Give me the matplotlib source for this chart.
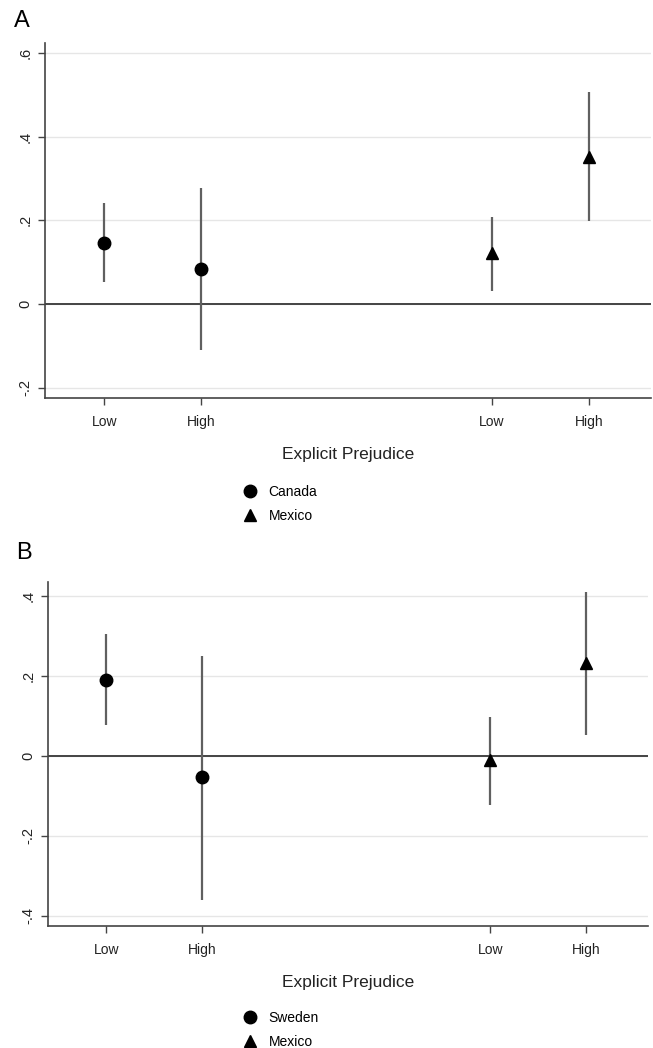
import matplotlib
matplotlib.use("Agg")
import matplotlib.pyplot as plt
from matplotlib.lines import Line2D
from matplotlib.ticker import FuncFormatter

plt.rcParams['font.family'] = ['Liberation Sans', 'DejaVu Sans']

# x positions: Low/High for first country, Low/High for Mexico
levels = ["Low", "High", "Low", "High"]
xpos = [1, 2, 5, 6]

# Panel A: Canada vs Mexico
a_names = ["Canada", "Mexico"]
a_est = [0.145, 0.085, 0.121, 0.352]
a_lo = [0.052, -0.110, 0.032, 0.199]
a_hi = [0.241, 0.278, 0.209, 0.506]

# Panel B: Sweden vs Mexico
b_names = ["Sweden", "Mexico"]
b_est = [0.190, -0.054, -0.010, 0.232]
b_lo = [0.078, -0.360, -0.124, 0.053]
b_hi = [0.304, 0.251, 0.098, 0.409]


def fmt(v, pos):
    if abs(v) < 1e-9:
        return "0"
    s = "%.1f" % v
    return s.replace("0.", ".")


def panel(ax, est, lo, hi, yticks, ylim):
    for y in yticks:
        ax.axhline(y, color='#e6e6e6', lw=1, zorder=0)
    ax.axhline(0, color='#444444', lw=1.4, zorder=1)
    ax.vlines(xpos, lo, hi, color='#606060', lw=1.6, zorder=2)
    ax.plot(xpos[:2], est[:2], 'o', color='black', ms=9, zorder=3)
    ax.plot(xpos[2:], est[2:], '^', color='black', ms=9, zorder=3)
    ax.set_xlim(0.39, 6.64)
    ax.set_ylim(*ylim)
    ax.set_xticks(xpos)
    ax.set_xticklabels(levels, fontsize=10)
    ax.set_yticks(yticks)
    ax.yaxis.set_major_formatter(FuncFormatter(fmt))
    for lab in ax.get_yticklabels():
        lab.set_rotation(90)
        lab.set_va('center')
        lab.set_fontsize(10.5)
    for s in ['top', 'right']:
        ax.spines[s].set_visible(False)
    for s in ['left', 'bottom']:
        ax.spines[s].set_color('#444444')
        ax.spines[s].set_linewidth(1.2)
    ax.tick_params(colors='#444444', length=5, width=1, labelcolor='#222222', pad=4)
    ax.tick_params(axis='x', pad=7)
    ax.set_xlabel("Explicit Prejudice", fontsize=12.5, labelpad=13, color='#222222')


fig = plt.figure(figsize=(6.53, 10.48), dpi=100)

axA = fig.add_axes([0.069, 0.620, 0.928, 0.339])
panel(axA, a_est, a_lo, a_hi, [-0.2, 0, 0.2, 0.4, 0.6], (-0.225, 0.624))
axB = fig.add_axes([0.073, 0.116, 0.919, 0.329])
panel(axB, b_est, b_lo, b_hi, [-0.4, -0.2, 0, 0.2, 0.4], (-0.427, 0.436))

fig.text(0.021, 0.980, "A", fontsize=17, va='center')
fig.text(0.025, 0.472, "B", fontsize=17, va='center')

for names, ytop in [(a_names, 1 - 478 / 1048), (b_names, 1 - 1004 / 1048)]:
    handles = [Line2D([], [], marker='o', ls='none', color='black', ms=9),
               Line2D([], [], marker='^', ls='none', color='black', ms=9)]
    fig.legend(handles, names, loc='upper left', bbox_to_anchor=(0.36, ytop),
               frameon=False, fontsize=10, handletextpad=0.7,
               labelspacing=0.7, borderpad=0, handlelength=1.2)

fig.savefig("out.png", dpi=100)
